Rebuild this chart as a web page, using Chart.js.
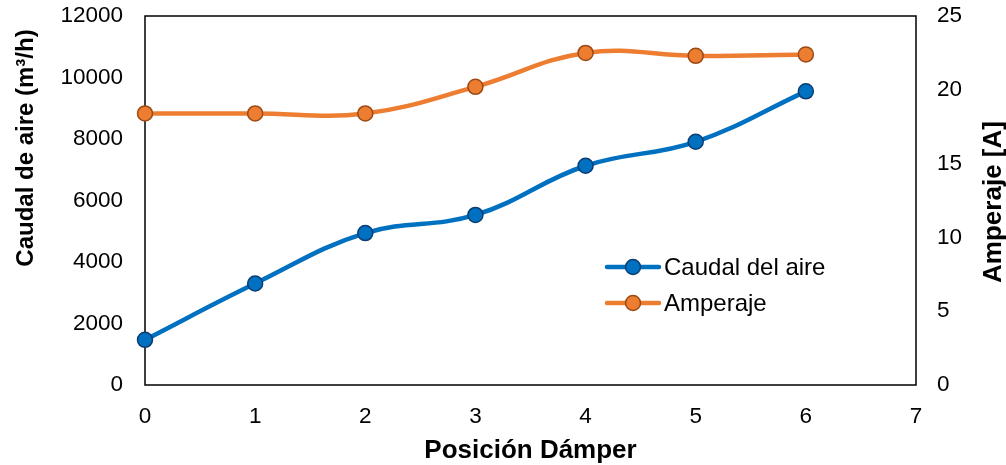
<!DOCTYPE html>
<html>
<head>
<meta charset="utf-8">
<script src="https://cdn.jsdelivr.net/npm/chart.js@4"></script>
<style>
  html, body { margin: 0; padding: 0; background: #fff; }
  #wrap { width: 1006px; height: 465px; }
</style>
</head>
<body>
<div id="wrap"><canvas id="chart" width="1006" height="465"></canvas></div>
<script>
// data
const posiciones = [0, 1, 2, 3, 4, 5, 6];
const caudal = [1470, 3300, 4940, 5530, 7130, 7910, 9550];
const amperaje = [18.4, 18.4, 18.4, 20.2, 22.5, 22.3, 22.4];

const leftTitle = 'Caudal de aire (m\u00b3/h)';
const rightTitle = 'Amperaje [A]';
const xTitle = 'Posición Dámper';

const FONT = "'Liberation Sans', Arial, sans-serif";

// frame, legend and vertical titles
const extras = {
  id: 'extras',
  beforeDatasetsDraw(chart) {
    const { ctx, chartArea: a } = chart;
    ctx.save();
    ctx.strokeStyle = '#000';
    ctx.lineWidth = 1.5;
    ctx.strokeRect(a.left, a.top, a.right - a.left, a.bottom - a.top);
    ctx.restore();
  },
  afterDraw(chart) {
    const { ctx } = chart;
    ctx.save();
    ctx.fillStyle = '#000';
    ctx.textAlign = 'center';
    ctx.textBaseline = 'middle';

    ctx.save();
    ctx.font = 'bold 24px ' + FONT;
    ctx.translate(26, 148);
    ctx.rotate(-Math.PI / 2);
    ctx.fillText(leftTitle, 0, 0);
    ctx.restore();

    ctx.save();
    ctx.font = 'bold 26px ' + FONT;
    ctx.translate(994, 202);
    ctx.rotate(-Math.PI / 2);
    ctx.fillText(rightTitle, 0, 0);
    ctx.restore();

    // legend
    const rows = [267, 303];
    chart.data.datasets.forEach((ds, i) => {
      const y = rows[i];
      ctx.strokeStyle = ds.borderColor;
      ctx.lineWidth = ds.borderWidth;
      ctx.lineCap = 'round';
      ctx.beginPath();
      ctx.moveTo(607, y);
      ctx.lineTo(659, y);
      ctx.stroke();
      ctx.beginPath();
      ctx.arc(633, y, ds.pointRadius, 0, Math.PI * 2);
      ctx.fillStyle = ds.pointBackgroundColor;
      ctx.fill();
      ctx.lineWidth = ds.pointBorderWidth;
      ctx.strokeStyle = ds.pointBorderColor;
      ctx.stroke();
      ctx.fillStyle = '#000';
      ctx.font = '24px ' + FONT;
      ctx.textAlign = 'left';
      ctx.fillText(ds.label, 664, y + 1);
    });
    ctx.restore();
  }
};

function noPad(scale) {
  scale.paddingTop = 0;
  scale.paddingBottom = 0;
  scale.paddingLeft = 0;
  scale.paddingRight = 0;
}

const ctx = document.getElementById('chart').getContext('2d');

new Chart(ctx, {
  type: 'line',
  data: {
    datasets: [{
      label: 'Caudal del aire',
      data: posiciones.map((p, i) => ({ x: p, y: caudal[i] })),
      yAxisID: 'y',
      borderColor: '#0070C0',
      borderWidth: 4.5,
      pointRadius: 7.5,
      pointBackgroundColor: '#0070C0',
      pointBorderColor: '#0B3D73',
      pointBorderWidth: 1.5,
      tension: 0.4,
      clip: false
    }, {
      label: 'Amperaje',
      data: posiciones.map((p, i) => ({ x: p, y: amperaje[i] })),
      yAxisID: 'y1',
      borderColor: '#ED7D31',
      borderWidth: 4.5,
      pointRadius: 7.5,
      pointBackgroundColor: '#ED7D31',
      pointBorderColor: '#9C4A14',
      pointBorderWidth: 1.5,
      tension: 0.4,
      clip: false
    }]
  },
  options: {
    responsive: false,
    animation: false,
    layout: { padding: { top: 16, left: 0, right: 0, bottom: 0 } },
    plugins: {
      legend: { display: false },
      tooltip: { enabled: false }
    },
    scales: {
      x: {
        type: 'linear',
        position: 'bottom',
        min: 0,
        max: 7,
        grid: { display: false, drawTicks: false },
        border: { display: false },
        ticks: { stepSize: 1, color: '#000', padding: 18, font: { family: FONT, size: 22.5 } },
        title: {
          display: true,
          text: xTitle,
          color: '#000',
          padding: { top: 0, bottom: 0 },
          font: { family: FONT, size: 26, weight: 'bold', lineHeight: 1.1 }
        },
        afterFit(scale) { scale.height = 80; noPad(scale); }
      },
      y: {
        position: 'left',
        min: 0,
        max: 12000,
        grid: { display: false, drawTicks: false },
        border: { display: false },
        ticks: {
          stepSize: 2000, color: '#000', padding: 22,
          font: { family: FONT, size: 22.5 },
          callback: v => String(v)
        },
        afterFit(scale) { scale.width = 145; noPad(scale); }
      },
      y1: {
        position: 'right',
        min: 0,
        max: 25,
        grid: { display: false, drawTicks: false },
        border: { display: false },
        ticks: {
          stepSize: 5, color: '#000', padding: 21,
          font: { family: FONT, size: 22.5 },
          callback: v => String(v)
        },
        afterFit(scale) { scale.width = 90; noPad(scale); }
      }
    }
  },
  plugins: [extras]
});
</script>
</body>
</html>
